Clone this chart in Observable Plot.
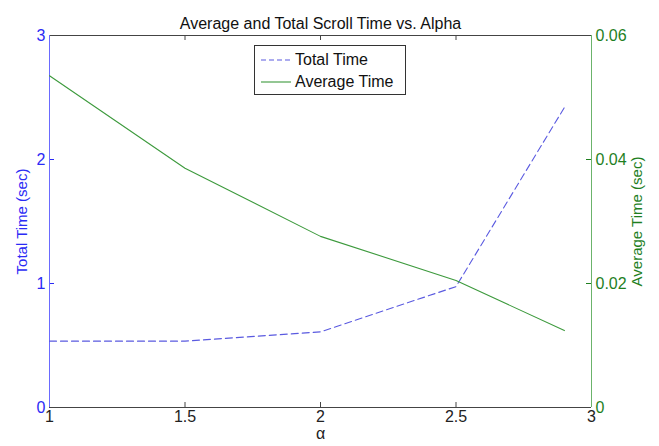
<!DOCTYPE html>
<html><head><meta charset="utf-8">
<script src="https://cdn.jsdelivr.net/npm/d3@7"></script>
<script src="https://cdn.jsdelivr.net/npm/@observablehq/plot@0.6"></script>
<style>
body{margin:0;background:#fff;font-family:"Liberation Sans",Arial,sans-serif;}
#wrap{position:relative;width:659px;height:446px;}
#legend{position:absolute;left:254px;top:45px;width:152px;height:50px;border:1px solid #333;background:#fff;font-size:16px;color:#111;box-sizing:border-box;}
#legend .row{position:absolute;left:6px;height:22px;display:flex;align-items:center;}
#legend svg{margin-right:4px;}
</style></head><body><div id="wrap"></div>
<script>
const alpha = [1, 1.5, 2, 2.5, 2.9];
const totalTime = [0.535, 0.535, 0.61, 0.975, 2.42];
const averageTime = [0.0535, 0.0386, 0.0276, 0.0205, 0.0124];
const xTicks = [1, 1.5, 2, 2.5, 3];
const xTickLabels = ["1", "1.5", "2", "2.5", "3"];
const leftTicks = [0, 1, 2, 3];
const leftTickLabels = ["0", "1", "2", "3"];
const rightTicks = [0, 0.02, 0.04, 0.06];
const rightTickLabels = ["0", "0.02", "0.04", "0.06"];
const seriesNames = ["Total Time", "Average Time"];
const titleText = "Average and Total Scroll Time vs. Alpha";
const xLabel = "α";
const leftLabel = "Total Time (sec)";
const rightLabel = "Average Time (sec)";

const leftMax = 3, rightMax = 0.06, ratio = leftMax / rightMax;
const W = 659, H = 446, mL = 49, mR = 68, mT = 35, mB = 39;
const fw = W - mL - mR, fh = H - mT - mB, tk = 5;
const blue = "#2b2bf5", lineBlue = "#5a5ae0", green = "#1f7f1f", lineGreen = "#3d9a3d";

const totalData = alpha.map((a, i) => ({a, v: totalTime[i]}));
const avgData = alpha.map((a, i) => ({a, v: averageTime[i] * ratio}));
const rightScaled = rightTicks.map(t => t * ratio);

const chart = Plot.plot({
  width: W, height: H,
  marginLeft: mL, marginRight: mR, marginTop: mT, marginBottom: mB,
  style: {fontFamily: "'Liberation Sans', Arial, sans-serif", fontSize: "16px", background: "#fff", overflow: "visible"},
  x: {domain: [1, 3]},
  y: {domain: [0, leftMax]},
  marks: [
    // inward ticks
    Plot.ruleX(xTicks, {x: d => d, insetTop: fh - tk, stroke: "#444"}),
    Plot.ruleX(xTicks, {x: d => d, insetBottom: fh - tk, stroke: "#444"}),
    Plot.ruleY(leftTicks, {y: d => d, insetRight: fw - tk, stroke: blue}),
    Plot.ruleY(rightScaled, {y: d => d, insetLeft: fw - tk, stroke: green}),
    // frame
    Plot.ruleY([0, leftMax], {stroke: "#444"}),
    Plot.ruleX([1], {stroke: "#6a6aff"}),
    Plot.ruleX([3], {stroke: "#6bb36b"}),
    Plot.axisX(xTicks, {anchor: "bottom", tickSize: 0, tickPadding: 3, color: "#222", tickFormat: (d, i) => xTickLabels[i], label: null, fontSize: 16}),
    Plot.axisY(leftTicks, {anchor: "left", tickSize: 0, tickPadding: 4, color: blue, label: null, tickFormat: (d, i) => leftTickLabels[i], fontSize: 16}),
    Plot.axisY(rightScaled, {anchor: "right", tickSize: 0, tickPadding: 4, color: green, label: null, tickFormat: (d, i) => rightTickLabels[i], fontSize: 16}),
    Plot.line(totalData, {x: "a", y: "v", stroke: lineBlue, strokeWidth: 1.1, strokeDasharray: "7,4"}),
    Plot.line(avgData, {x: "a", y: "v", stroke: lineGreen, strokeWidth: 1.1}),
    Plot.text([titleText], {frameAnchor: "top", dy: -18, text: d => d, fontSize: 16, fill: "#111"}),
    Plot.text([xLabel], {frameAnchor: "bottom", dy: 31, text: d => d, fontSize: 16, fill: "#222"}),
    Plot.text([leftLabel], {frameAnchor: "left", dx: -27, rotate: -90, textAnchor: "middle", text: d => d, fontSize: 15, fill: blue}),
    Plot.text([rightLabel], {frameAnchor: "right", dx: 46, rotate: -90, textAnchor: "middle", text: d => d, fontSize: 15, fill: green})
  ]
});
const wrap = document.getElementById("wrap");
wrap.appendChild(chart);

const legend = document.createElement("div");
legend.id = "legend";
const styles = [{stroke: lineBlue, dash: "5,3"}, {stroke: lineGreen, dash: null}];
seriesNames.forEach((name, i) => {
  const row = document.createElement("div");
  row.className = "row";
  row.style.top = (3 + i * 22) + "px";
  const s = styles[i];
  row.innerHTML = `<svg width="30" height="10"><line x1="0" y1="5" x2="30" y2="5" stroke="${s.stroke}" stroke-width="1.1" ${s.dash ? `stroke-dasharray="${s.dash}"` : ""}/></svg><span>${name}</span>`;
  legend.appendChild(row);
});
wrap.appendChild(legend);
</script>
</body></html>
